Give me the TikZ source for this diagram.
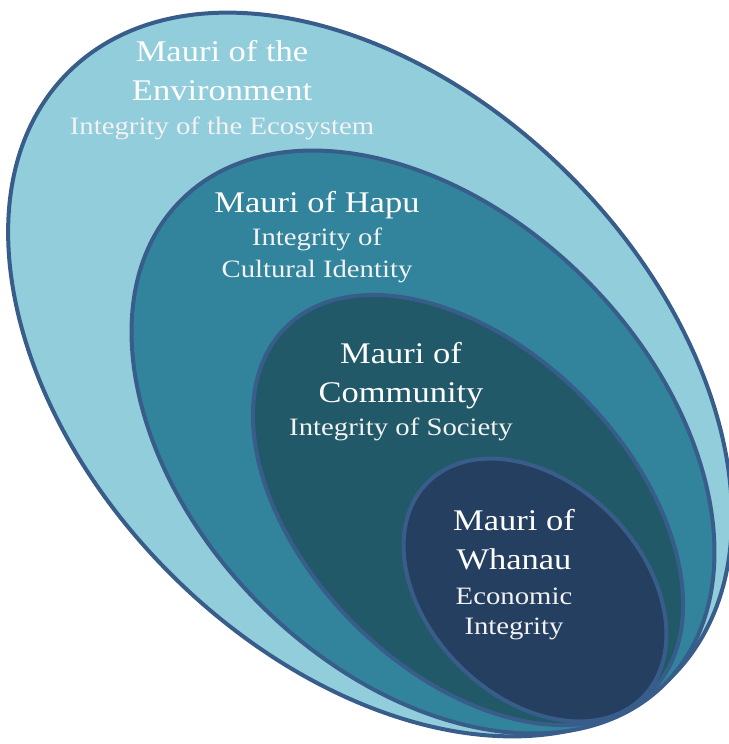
\documentclass[tikz,border=0pt]{standalone}
\usepackage{fontspec}
\setmainfont{Liberation Serif}[FakeStretch=1.15]
\usetikzlibrary{positioning}

\definecolor{ringline}{HTML}{385D8A}
\definecolor{envfill}{HTML}{92CDDC}
\definecolor{hapufill}{HTML}{31849B}
\definecolor{commfill}{HTML}{215968}
\definecolor{whanaufill}{HTML}{243F60}

\begin{document}
\begin{tikzpicture}[
  x=0.5pt, y=0.5pt,
  node distance=9pt,
  ring/.style={draw=ringline, line width=2pt},
  head/.style={font=\fontsize{15}{18}\selectfont, text=white, inner sep=0pt, text height=9.9pt, text depth=0pt},
  sub/.style={font=\fontsize{12.5}{15}\selectfont, text=white!95!black, inner sep=0pt, text height=8.3pt, text depth=0pt}
]
  \useasboundingbox (0,0) rectangle (728,-744);

  % nested rings, outermost first
  \filldraw[ring, fill=envfill, rotate around={-45:(370,-374.5)}] (370,-374.5) ellipse [x radius=213.5pt, y radius=141pt];
  \filldraw[ring, fill=hapufill, rotate around={-45:(423,-442)}] (423,-442) ellipse [x radius=171pt, y radius=115pt];
  \filldraw[ring, fill=commfill, rotate around={-45:(468,-510)}] (468,-510) ellipse [x radius=129pt, y radius=80.5pt];
  \filldraw[ring, fill=whanaufill, rotate around={-45:(535,-590)}] (535,-590) ellipse [x radius=76pt, y radius=53.5pt];

  % environment
  \node[head] (env1) at (222,-52) {Mauri of the};
  \node[head, below=of env1] (env2) {Environment};
  \node[sub, below=8.5pt of env2] (env3) {Integrity of the Ecosystem};

  % hapu
  \node[head] (hapu1) at (317,-202.5) {Mauri of Hapu};
  \node[sub, below=8pt of hapu1] (hapu2) {Integrity of};
  \node[sub, below=7pt of hapu2] (hapu3) {Cultural Identity};

  % community
  \node[head] (comm1) at (401,-354) {Mauri of};
  \node[head, below=of comm1] (comm2) {Community};
  \node[sub, below=8pt of comm2] (comm3) {Integrity of Society};

  % whanau
  \node[head] (wha1) at (514,-520.5) {Mauri of};
  \node[head, below=of wha1] (wha2) {Whanau};
  \node[sub, below=9pt of wha2] (wha3) {Economic};
  \node[sub, below=6.5pt of wha3] (wha4) {Integrity};
\end{tikzpicture}
\end{document}
